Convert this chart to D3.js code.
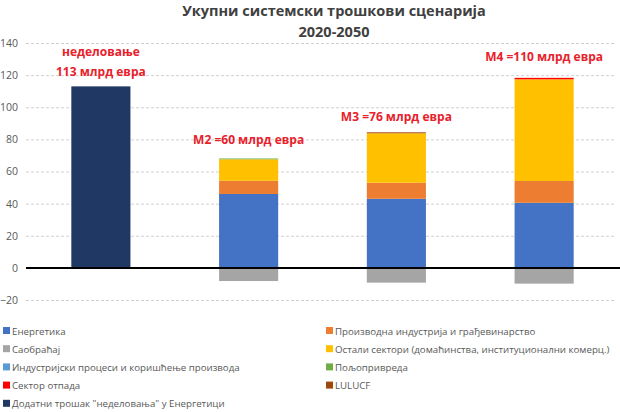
<!DOCTYPE html>
<html>
<head>
<meta charset="utf-8">
<script src="https://cdn.jsdelivr.net/npm/d3@7"></script>
<style>
  body { margin: 0; background: #fff; font-family: "Open Sans", "Noto Sans", sans-serif; }
  svg text { font-family: "Open Sans", "Noto Sans", sans-serif; }
</style>
</head>
<body>
<script>
const categories = ["Неделовање", "M2", "M3", "M4"];

const seriesNames = [
  "Енергетика",
  "Производна индустрија и  грађевинарство",
  "Саобраћај",
  "Остали сектори (домаћинства, институционални комерц.)",
  "Индустријски процеси и коришћење производа",
  "Пољопривреда",
  "Сектор отпада",
  "LULUCF",
  "Додатни трошак \"неделовања\" у Енергетици"
];

const seriesColors = [
  "#4472c4", "#ed7d31", "#a5a5a5", "#ffc000", "#5b9bd5",
  "#70ad47", "#ff0000", "#9e480e", "#203864"
];

// values per series, one per category
const energetika = [0, 46, 43, 40.5];
const proizvodna = [0, 8.2, 10, 13.6];
const saobracaj = [0, -8.2, -9.2, -9.8];
const ostali = [0, 13.4, 30.8, 63.3];
const industrijski = [0, 0, 0, 0];
const poljoprivreda = [0, 0.5, 0, 0];
const otpad = [0, 0, 0, 0.9];
const lulucf = [0, 0, 0.6, 0];
const dodatni = [113, 0, 0, 0];

const seriesValues = [energetika, proizvodna, saobracaj, ostali, industrijski,
  poljoprivreda, otpad, lulucf, dodatni];

const yTicks = [-20, 0, 20, 40, 60, 80, 100, 120, 140];

const labels = [
  { cat: "Неделовање", lines: ["неделовање", "113 млрд евра"], value: 132 },
  { cat: "M2", lines: ["M2 =60 млрд евра"], value: 77 },
  { cat: "M3", lines: ["M3 =76 млрд евра"], value: 91.5 },
  { cat: "M4", lines: ["M4 =110 млрд евра"], value: 128.5 }
];

const width = 620;
const height = 412;

const svg = d3.select("body").append("svg")
  .attr("width", width)
  .attr("height", height);

const xScale = d3.scaleBand()
  .domain(categories)
  .range([27, 618])
  .paddingInner(0.6)
  .paddingOuter(0.3);

const yScale = d3.scaleLinear()
  .domain([-20, 140])
  .range([300, 43]);

// title
svg.append("text")
  .attr("x", 334).attr("y", 16)
  .attr("text-anchor", "middle")
  .style("font-size", "14.5px").style("font-weight", "bold").style("fill", "#404040")
  .text("Укупни системски трошкови сценарија");
svg.append("text")
  .attr("x", 334).attr("y", 37)
  .attr("text-anchor", "middle")
  .style("font-size", "14.5px").style("font-weight", "bold").style("fill", "#404040")
  .text("2020-2050");

// grid + axis
const yAxis = d3.axisLeft(yScale)
  .tickValues(yTicks)
  .tickSize(-(616 - 26))
  .tickPadding(8);

const gy = svg.append("g")
  .attr("transform", "translate(26,0)")
  .call(yAxis);
gy.select(".domain").remove();
gy.selectAll(".tick line")
  .attr("stroke", "#d0d0d0")
  .attr("stroke-dasharray", "3,2");
gy.selectAll(".tick text")
  .style("font-size", "10.5px")
  .style("fill", "#595959");

// stacked bars
const table = categories.map((c, i) => {
  const row = { cat: c };
  seriesNames.forEach((s, j) => { row[s] = seriesValues[j][i]; });
  return row;
});

const stacked = d3.stack()
  .keys(seriesNames)
  .offset(d3.stackOffsetDiverging)(table);

svg.append("g")
  .selectAll("g")
  .data(stacked)
  .enter()
  .append("g")
  .attr("fill", (d, i) => seriesColors[i])
  .selectAll("rect")
  .data((d) => d)
  .enter()
  .append("rect")
  .attr("x", (d) => xScale(d.data.cat))
  .attr("y", (d) => yScale(Math.max(d[0], d[1])))
  .attr("width", xScale.bandwidth())
  .attr("height", (d) => Math.abs(yScale(d[0]) - yScale(d[1])));

// zero line
svg.append("line")
  .attr("x1", 26).attr("x2", 620)
  .attr("y1", yScale(0)).attr("y2", yScale(0))
  .attr("stroke", "#000")
  .attr("stroke-width", 2);

// red annotations
labels.forEach((l) => {
  const t = svg.append("text")
    .attr("x", xScale(l.cat) + xScale.bandwidth() / 2)
    .attr("y", yScale(l.value))
    .attr("text-anchor", "middle")
    .style("font-size", "12px")
    .style("font-weight", "bold")
    .style("fill", "#e8212b");
  l.lines.forEach((line, i) => {
    t.append("tspan")
      .attr("x", xScale(l.cat) + xScale.bandwidth() / 2)
      .attr("dy", i === 0 ? 0 : 20)
      .text(line);
  });
});

// legend, two columns
const legend = svg.append("g");
seriesNames.forEach((s, i) => {
  const col = i % 2;
  const row = Math.floor(i / 2);
  const x = col === 0 ? 3 : 326;
  const y = 331 + row * 18.2;
  legend.append("rect")
    .attr("x", x).attr("y", y - 4)
    .attr("width", 7).attr("height", 7)
    .attr("fill", seriesColors[i]);
  legend.append("text")
    .attr("x", x + 9).attr("y", y + 3.5)
    .style("font-size", "9.7px")
    .style("fill", "#595959")
    .text(s);
});
</script>
</body>
</html>
